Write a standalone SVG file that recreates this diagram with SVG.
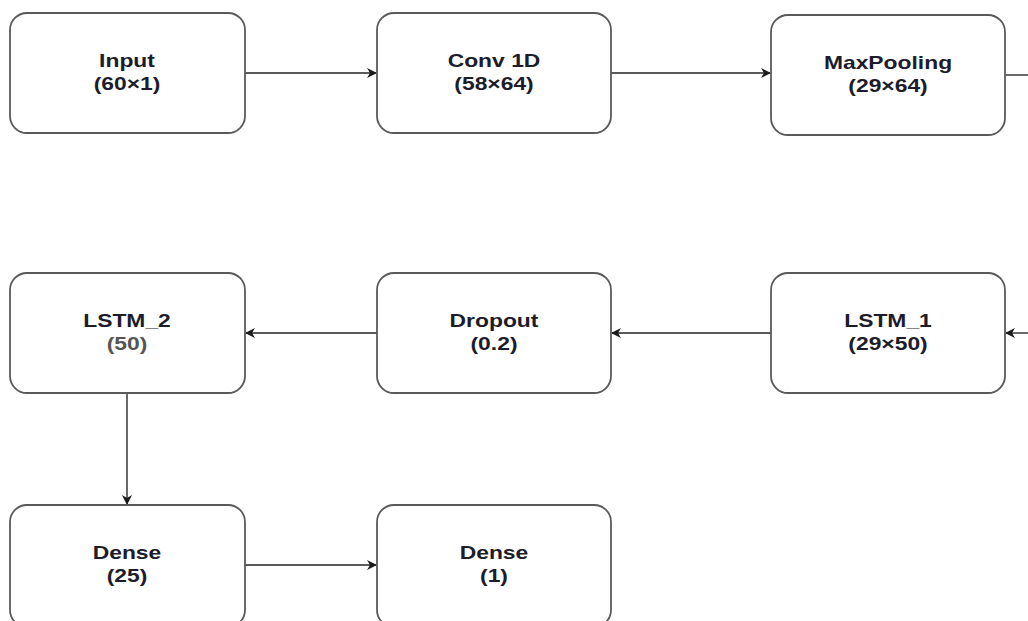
<svg xmlns="http://www.w3.org/2000/svg" width="1028" height="621" viewBox="0 0 1028 621">
  <style>
    .box { fill: #ffffff; stroke: #5a5a5a; stroke-width: 1.8; }
    .t { font-family: "Liberation Sans", Arial, sans-serif; font-size: 18px; font-weight: bold; fill: #1c1c2a; text-anchor: middle; }
    .dim { fill: #555555; }
    .edge { fill: none; stroke: #5a5a5a; stroke-width: 1.8; }
  </style>
  <defs>
    <marker id="arrow" viewBox="0 0 10 10" refX="9" refY="5" markerWidth="10" markerHeight="10" markerUnits="userSpaceOnUse" orient="auto">
      <path d="M0,0 L10,5 L0,10 L3,5 Z" fill="#1a1a1a"/>
    </marker>
  </defs>

  <rect width="1028" height="621" fill="#ffffff"/>

  <g id="connectors">
    <line class="edge" x1="245" y1="73" x2="376" y2="73" marker-end="url(#arrow)"/>
    <line class="edge" x1="611" y1="73" x2="770" y2="73" marker-end="url(#arrow)"/>
    <line class="edge" x1="1005" y1="75" x2="1030" y2="75"/>
    <line class="edge" x1="1030" y1="333" x2="1006" y2="333" marker-end="url(#arrow)"/>
    <line class="edge" x1="771" y1="333" x2="612" y2="333" marker-end="url(#arrow)"/>
    <line class="edge" x1="377" y1="333" x2="246" y2="333" marker-end="url(#arrow)"/>
    <line class="edge" x1="127" y1="393" x2="127" y2="504" marker-end="url(#arrow)"/>
    <line class="edge" x1="245" y1="565" x2="376" y2="565" marker-end="url(#arrow)"/>
  </g>

  <!-- labels are drawn slightly widened: translate to the centre, then scale x -->
  <g id="node-input">
    <rect class="box" x="10" y="13" width="235" height="120" rx="17"/>
    <g transform="translate(127,0) scale(1.27,1)">
      <text class="t" x="0" y="67">Input</text>
      <text class="t" x="0" y="90">(60×1)</text>
    </g>
  </g>
  <g id="node-conv1d">
    <rect class="box" x="377" y="13" width="234" height="120" rx="17"/>
    <g transform="translate(494,0) scale(1.27,1)">
      <text class="t" x="0" y="67">Conv 1D</text>
      <text class="t" x="0" y="90">(58×64)</text>
    </g>
  </g>
  <g id="node-maxpooling">
    <rect class="box" x="771" y="15" width="234" height="120" rx="17"/>
    <g transform="translate(888,0) scale(1.27,1)">
      <text class="t" x="0" y="69">MaxPooling</text>
      <text class="t" x="0" y="92">(29×64)</text>
    </g>
  </g>
  <g id="node-lstm1">
    <rect class="box" x="771" y="273" width="234" height="120" rx="17"/>
    <g transform="translate(888,0) scale(1.27,1)">
      <text class="t" x="0" y="327">LSTM_1</text>
      <text class="t" x="0" y="350">(29×50)</text>
    </g>
  </g>
  <g id="node-dropout">
    <rect class="box" x="377" y="273" width="234" height="120" rx="17"/>
    <g transform="translate(494,0) scale(1.27,1)">
      <text class="t" x="0" y="327">Dropout</text>
      <text class="t" x="0" y="350">(0.2)</text>
    </g>
  </g>
  <g id="node-lstm2">
    <rect class="box" x="10" y="273" width="235" height="120" rx="17"/>
    <g transform="translate(127,0) scale(1.27,1)">
      <text class="t" x="0" y="327">LSTM_2</text>
      <text class="t dim" x="0" y="350">(50)</text>
    </g>
  </g>
  <g id="node-dense25">
    <rect class="box" x="10" y="505" width="235" height="122" rx="17"/>
    <g transform="translate(127,0) scale(1.27,1)">
      <text class="t" x="0" y="559">Dense</text>
      <text class="t" x="0" y="582">(25)</text>
    </g>
  </g>
  <g id="node-dense1">
    <rect class="box" x="377" y="505" width="234" height="122" rx="17"/>
    <g transform="translate(494,0) scale(1.27,1)">
      <text class="t" x="0" y="559">Dense</text>
      <text class="t" x="0" y="582">(1)</text>
    </g>
  </g>
</svg>
